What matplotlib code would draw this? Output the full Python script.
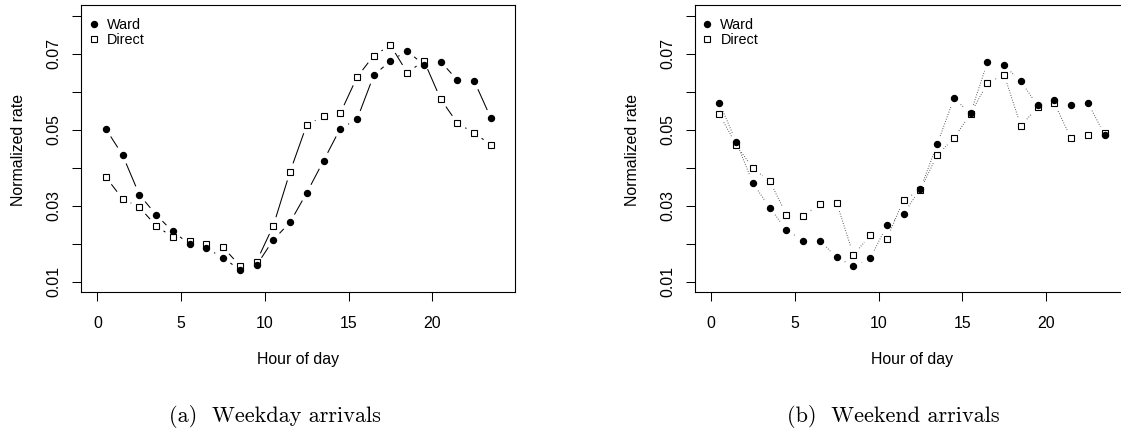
import matplotlib
matplotlib.use("Agg")
import matplotlib.pyplot as plt
import numpy as np
from matplotlib.collections import LineCollection
from matplotlib.lines import Line2D

plt.rcParams['font.family'] = ['Liberation Sans', 'DejaVu Sans']

hours = np.arange(24) + 0.5

# weekday arrivals
ward_wd = [0.0502, 0.0433, 0.0329, 0.0276, 0.0232, 0.0199, 0.0188, 0.0163,
           0.0131, 0.0143, 0.0210, 0.0256, 0.0334, 0.0418, 0.0503, 0.0527,
           0.0643, 0.0681, 0.0707, 0.0670, 0.0679, 0.0630, 0.0628, 0.0530]
direct_wd = [0.0375, 0.0318, 0.0296, 0.0247, 0.0217, 0.0206, 0.0200, 0.0191,
             0.0142, 0.0153, 0.0247, 0.0389, 0.0513, 0.0535, 0.0543, 0.0638,
             0.0695, 0.0722, 0.0650, 0.0681, 0.0580, 0.0517, 0.0491, 0.0460]

# weekend arrivals
ward_we = [0.0570, 0.0468, 0.0359, 0.0295, 0.0236, 0.0208, 0.0208, 0.0164,
           0.0141, 0.0161, 0.0248, 0.0279, 0.0344, 0.0461, 0.0582, 0.0543,
           0.0677, 0.0669, 0.0627, 0.0564, 0.0579, 0.0564, 0.0571, 0.0487]
direct_we = [0.0540, 0.0460, 0.0398, 0.0365, 0.0276, 0.0274, 0.0304, 0.0308,
             0.0170, 0.0222, 0.0213, 0.0315, 0.0341, 0.0433, 0.0477, 0.0542,
             0.0622, 0.0645, 0.0510, 0.0559, 0.0570, 0.0477, 0.0485, 0.0492]

xticks = [0, 5, 10, 15, 20]
yticks = [0.01, 0.02, 0.03, 0.04, 0.05, 0.06, 0.07, 0.08]
ylabels = ['0.01', '', '0.03', '', '0.05', '', '0.07', '']

W, H = 1121, 429
FS = 11.4
GAP = 9.0  # px gap left around each point, like R's type="b"

fig = plt.figure(figsize=(W / 100, H / 100), dpi=100)


def gapped_segments(ax, x, y):
    pts = ax.transData.transform(np.column_stack([x, y]))
    inv = ax.transData.inverted()
    segs = []
    for p, q in zip(pts[:-1], pts[1:]):
        d = q - p
        L = np.hypot(*d)
        if L <= 2 * GAP:
            continue
        u = d / L
        segs.append(inv.transform(np.array([p + u * GAP, q - u * GAP])))
    return segs


def panel(x0, ward, direct, lstyle, lcolor, caption, cap_x):
    ax = fig.add_axes([x0 / W, 1 - 292.3 / H, 434 / W, 287.3 / H])
    ax.set_xlim(-0.96, 24.96)
    ax.set_ylim(0.0072, 0.0828)
    ax.set_xticks(xticks)
    ax.set_xticklabels([str(t) for t in xticks])
    ax.set_yticks(yticks)
    ax.set_yticklabels(ylabels, rotation=90, va='center')
    ax.tick_params(direction='out', length=6.8, width=0.75, labelsize=FS)
    ax.tick_params(axis='x', pad=10.0)
    ax.tick_params(axis='y', pad=7.6)
    for s in ax.spines.values():
        s.set_linewidth(0.8)

    for ys in (ward, direct):
        lc = LineCollection(gapped_segments(ax, hours, ys), colors=lcolor,
                            linewidths=0.75, linestyles=lstyle)
        ax.add_collection(lc)

    ax.plot(hours, ward, 'o', color='black', ms=4.3, ls='none', zorder=3)
    ax.plot(hours, direct, 's', mfc='none', mec='black', mew=0.8, ms=4.6,
            ls='none', zorder=3)

    handles = [Line2D([], [], marker='o', color='black', ls='none', ms=4.3),
               Line2D([], [], marker='s', mfc='none', mec='black', mew=0.8,
                      ls='none', ms=4.3)]
    ax.legend(handles, ['Ward', 'Direct'], loc='upper left', frameon=False,
              fontsize=10.4, handlelength=1.0, handletextpad=0.42,
              labelspacing=0.1, borderpad=0, borderaxespad=0,
              bbox_to_anchor=(4.9 / 434, 1 - 13.0 / 287.3))

    fig.text((x0 - 58.1) / W, 1 - 150 / H, 'Normalized rate', rotation=90,
             rotation_mode='anchor', ha='center', va='baseline', fontsize=FS)
    fig.text((x0 + 216.6) / W, 1 - 364.3 / H, 'Hour of day', ha='center',
             va='baseline', fontsize=FS)
    fig.text(cap_x / W, 1 - 421.5 / H, caption, ha='center', va='baseline',
             fontsize=16, family='cmr10')
    return ax


panel(81.4, ward_wd, direct_wd, 'solid', 'black', '(a)  Weekday arrivals', 275)
panel(695.0, ward_we, direct_we, (0, (0.8, 1.6)), '0.3', '(b)  Weekend arrivals', 893)

fig.savefig('out.png', dpi=100)
